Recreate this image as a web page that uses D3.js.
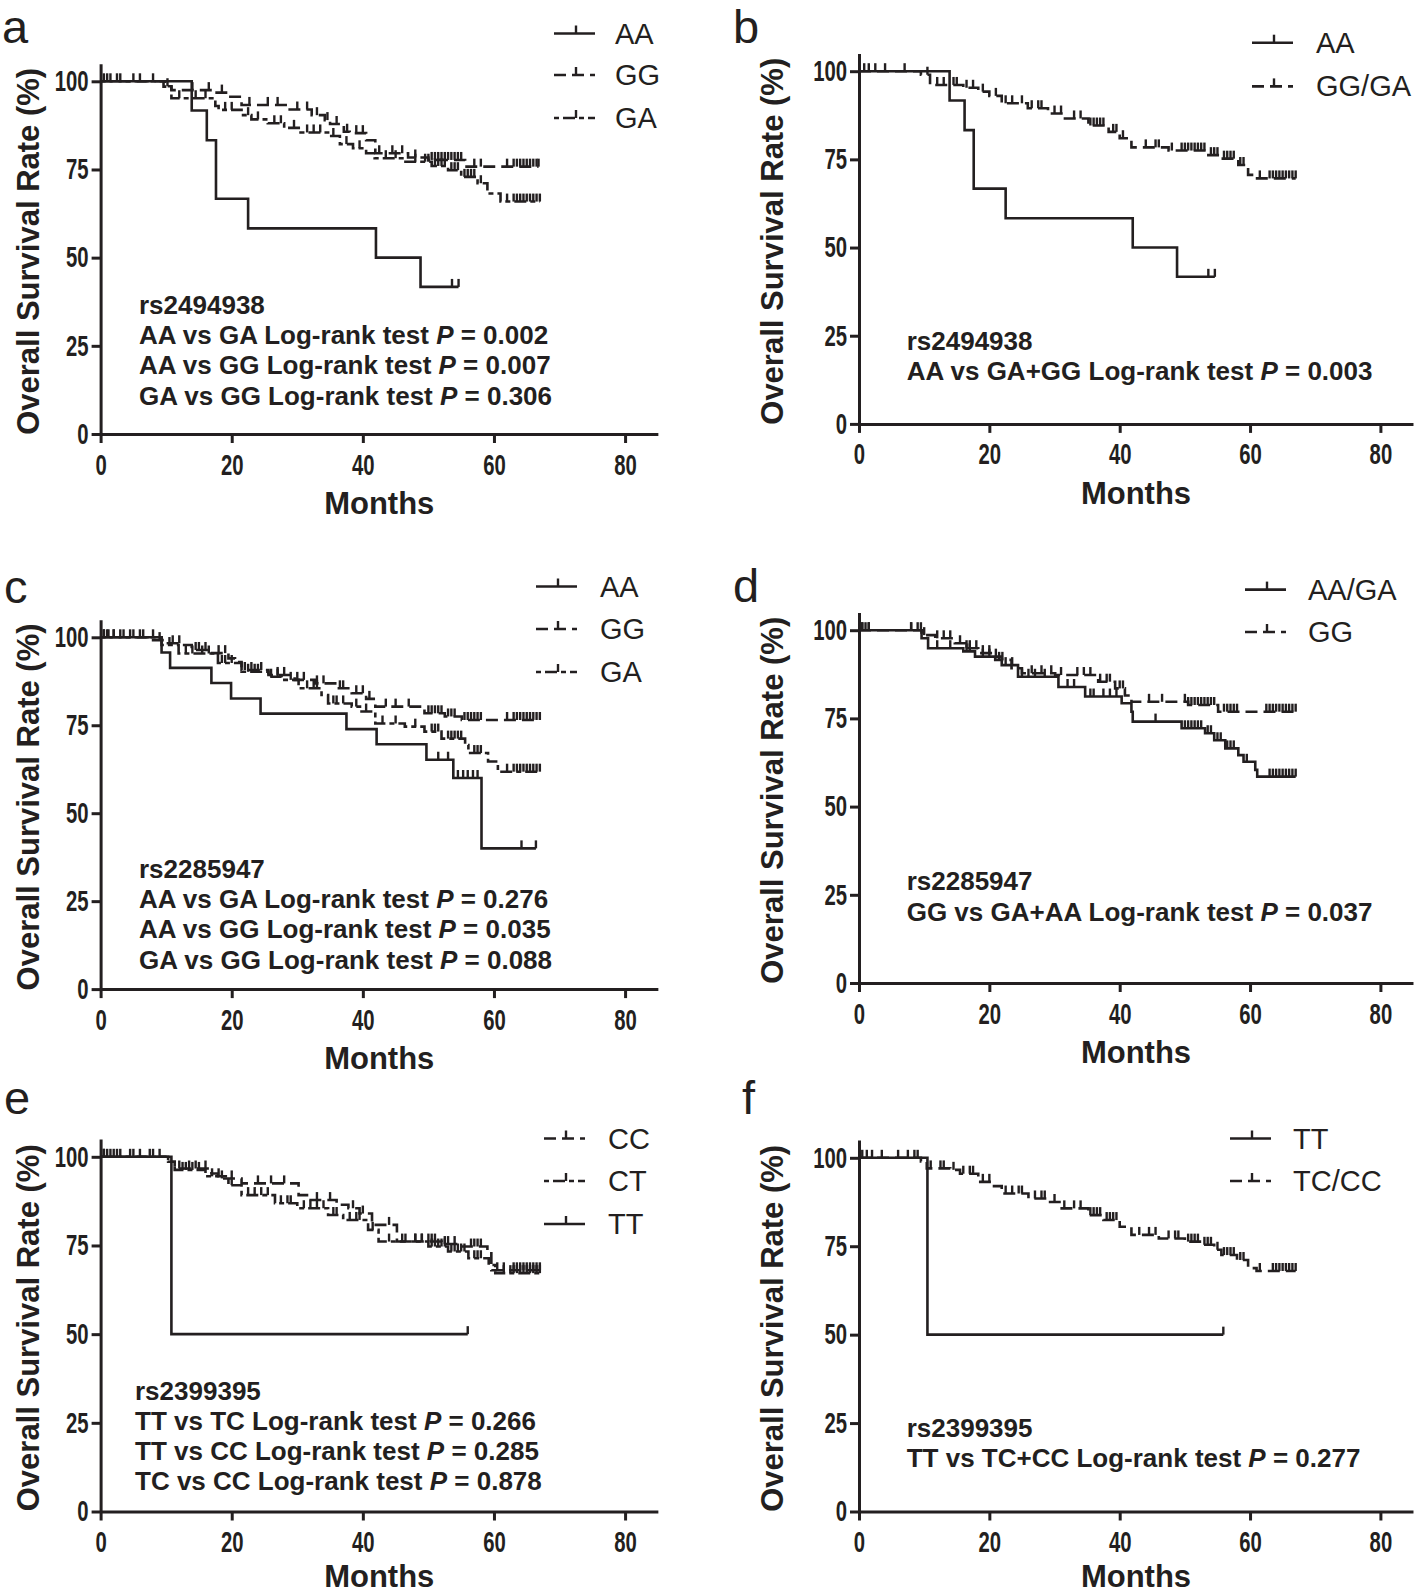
<!DOCTYPE html>
<html>
<head>
<meta charset="utf-8">
<script src="https://cdn.jsdelivr.net/npm/d3@7"></script>
<style>
  body { margin: 0; background: #fff; }
  text { font-family: "Liberation Sans", Arial, sans-serif; fill: #231f20; }
</style>
</head>
<body>
<svg id="fig" width="1418" height="1594"></svg>
<script>
/* ---- Data: Kaplan-Meier steps (event month, survival % after it) and censor months ---- */
var xTicks = [0, 20, 40, 60, 80];
var yTicks = [0, 25, 50, 75, 100];

// rs2494938 AA (panels a and b)
var aAA_t = [13.9, 16.2, 17.6, 22.5, 42.0, 48.8];
var aAA_s = [91.7, 83.3, 66.7, 58.3, 50.0, 41.7];
var aAA_c = [53.6, 54.6];
// panel a GG
var aGG_t = [9.8, 10.8, 17.4, 19.5, 21.5, 28.6, 32.2, 34.2, 35.0, 37.1, 38.0, 40.5, 41.9, 46.9, 50.0, 55.6];
var aGG_s = [98.6, 97.5, 96.8, 95.6, 93.3, 92.0, 90.4, 89.0, 87.9, 85.7, 85.3, 83.3, 79.6, 78.4, 77.7, 75.8];
var aGG_c = [1.0, 2.5, 6.0, 10.2, 14, 16.5, 18.5, 22.7, 25.5, 27.0, 30.0, 31.5, 33.0, 34.6, 36.0, 37.6, 39.0, 40.0, 42.5, 44.5, 46.0, 48.0, 50.5, 51.0, 51.5, 52.0, 52.5, 53.0, 53.5, 54.0, 54.5, 55.0, 57.0, 58.0, 62.0, 63.0, 63.5, 64.0, 64.5, 65.0, 65.5, 66.0, 66.5, 66.8];
// panel a GA
var aGA_t = [9.6, 10.8, 17.5, 18.0, 21.5, 23.0, 25.5, 28.0, 30.5, 34.7, 36.5, 38.5, 40.5, 41.8, 46.5, 50.5, 53.0, 55.0, 57.5, 59.0, 61.0];
var aGA_s = [98.5, 95.2, 93.0, 91.9, 90.4, 89.2, 88.1, 86.8, 85.5, 84.5, 82.2, 81.0, 79.6, 78.2, 77.2, 76.0, 74.8, 72.9, 71.1, 68.2, 65.9];
var aGA_c = [0.5, 1.5, 3.0, 5.0, 8.0, 12.0, 14.5, 16.0, 19.0, 20.0, 22.5, 24.0, 26.5, 27.5, 29.5, 31.5, 32.5, 33.5, 35.5, 37.5, 39.5, 43.5, 45.0, 48.0, 49.5, 50.0, 51.0, 51.5, 52.0, 52.5, 53.5, 54.0, 54.5, 55.5, 56.0, 56.5, 57.0, 58.0, 62.0, 63.0, 63.5, 64.0, 64.5, 65.0, 65.5, 66.0, 66.5, 67.0];
// panel b GG/GA
var bGGGA_t = [9.5, 10.9, 16.0, 18.3, 20.0, 21.9, 25.9, 29.0, 31.6, 35.2, 38.3, 40.0, 41.8, 47.5, 53.6, 55.6, 58.2, 59.7, 60.8];
var bGGGA_s = [99.0, 96.1, 95.3, 94.2, 93.0, 90.9, 89.5, 88.0, 86.6, 84.6, 82.8, 81.0, 78.4, 77.5, 76.2, 75.2, 73.4, 70.6, 69.6];
var bGGGA_c = [0.8, 1.5, 2.5, 4.0, 7.0, 10.5, 12.0, 13.0, 14.5, 15.0, 16.5, 17.5, 19.0, 21.0, 22.5, 23.5, 25.0, 26.5, 27.5, 28.0, 30.0, 31.0, 33.0, 34.0, 35.5, 36.0, 36.5, 37.0, 37.5, 39.0, 39.5, 40.5, 44.0, 45.5, 46.0, 48.0, 49.5, 50.0, 50.5, 51.0, 51.5, 52.0, 52.5, 53.0, 54.0, 54.5, 55.0, 56.0, 56.5, 57.0, 57.5, 58.5, 59.0, 61.5, 63.0, 63.5, 64.0, 64.5, 65.0, 65.5, 66.0, 66.5, 67.0];
// panel c (rs2285947)
var cAA_t = [9.3, 10.6, 16.9, 19.9, 24.4, 37.5, 42.1, 49.7, 53.8, 58.1];
var cAA_s = [95.7, 91.3, 87.0, 82.6, 78.3, 73.9, 69.6, 65.2, 60.0, 40.0];
var cAA_c = [51.5, 53.0, 54.5, 55.3, 56.0, 56.8, 57.5, 64.2, 66.4];
var cGG_t = [7.5, 9.8, 12.4, 13.9, 17.0, 19.5, 20.5, 21.5, 25.6, 29.6, 32.7, 36.0, 38.3, 40.5, 41.9, 49.4, 52.5, 55.1];
var cGG_s = [99.2, 98.3, 97.8, 96.4, 95.5, 94.0, 93.0, 90.7, 89.3, 87.9, 86.9, 85.5, 84.1, 82.5, 80.3, 78.4, 77.5, 76.5];
var cGG_c = [0.5, 1.0, 2.0, 3.0, 4.5, 6.0, 9.0, 11.0, 12.0, 14.5, 15.0, 16.0, 18.0, 19.0, 22.0, 23.0, 24.5, 27.0, 28.0, 30.0, 31.0, 33.0, 34.0, 36.5, 37.0, 39.0, 40.0, 41.0, 43.5, 45.0, 47.0, 50.0, 50.5, 51.0, 51.5, 52.0, 53.0, 53.5, 54.0, 55.5, 56.0, 56.5, 57.0, 57.5, 58.0, 62.0, 63.0, 63.5, 64.0, 64.5, 65.0, 65.5, 66.0, 66.5, 67.0];
var cGA_t = [9.3, 11.9, 17.9, 21.5, 25.6, 27.6, 30.2, 33.7, 34.7, 38.3, 39.8, 41.9, 46.4, 49.4, 52.0, 55.6, 56.1, 59.1, 60.6];
var cGA_s = [97.8, 95.4, 92.7, 90.2, 88.8, 87.9, 85.5, 83.6, 81.2, 80.3, 78.9, 75.5, 74.6, 73.2, 71.2, 69.4, 67.1, 64.7, 61.8];
var cGA_c = [0.5, 1.2, 2.0, 3.5, 5.0, 6.5, 8.0, 10.5, 13.0, 14.0, 15.5, 16.5, 18.5, 19.0, 20.0, 22.5, 23.5, 24.0, 26.0, 27.0, 29.0, 31.5, 32.5, 33.0, 35.5, 36.0, 37.0, 39.0, 40.5, 43.0, 45.0, 48.0, 50.5, 51.0, 51.5, 53.0, 53.5, 54.0, 54.5, 55.0, 57.0, 57.5, 58.0, 62.0, 63.0, 63.5, 64.0, 64.5, 65.0, 65.5, 66.0, 66.5, 67.0];
// panel d
var dAAGA_t = [9.6, 10.6, 16.0, 17.8, 21.9, 24.4, 30.6, 34.7, 40.3, 41.8, 42.0, 49.5, 53.1, 54.5, 56.2, 58.2, 59.0, 60.8, 61.1];
var dAAGA_s = [97.7, 94.9, 94.0, 92.5, 90.1, 86.8, 83.9, 81.2, 79.3, 76.9, 74.1, 72.2, 70.8, 68.8, 66.5, 64.6, 62.7, 60.4, 58.5];
var dAAGA_c = [0.5, 1.0, 1.5, 8.0, 9.5, 12.0, 14.0, 16.5, 17.0, 19.0, 20.0, 21.0, 22.5, 23.5, 25.0, 26.0, 27.0, 28.5, 32.0, 33.0, 35.5, 36.0, 37.5, 38.5, 39.5, 45.5, 50.0, 50.5, 51.0, 51.5, 52.0, 52.5, 53.5, 54.0, 55.0, 55.5, 56.5, 57.0, 57.5, 59.5, 63.0, 63.5, 64.0, 64.5, 65.0, 65.5, 66.0, 66.5, 67.0];
var dGG_t = [9.6, 11.7, 14.7, 16.3, 18.3, 20.9, 23.4, 25.0, 30.1, 36.7, 39.3, 40.8, 41.8, 50.5, 55.1];
var dGG_s = [98.6, 97.7, 96.3, 94.9, 93.5, 91.6, 89.2, 87.8, 87.3, 85.4, 83.5, 81.5, 79.7, 78.8, 76.9];
var dGG_c = [0.5, 1.5, 8.0, 9.0, 10.0, 12.0, 13.0, 14.0, 15.5, 16.5, 17.0, 18.0, 19.0, 20.0, 21.5, 22.0, 26.5, 28.0, 29.5, 31.0, 33.5, 34.5, 35.5, 37.0, 38.0, 38.5, 40.0, 40.5, 44.5, 46.5, 50.0, 50.5, 51.0, 51.5, 52.0, 52.5, 53.0, 53.5, 54.0, 54.5, 56.0, 56.5, 57.0, 57.5, 58.0, 62.5, 63.0, 63.5, 64.0, 64.5, 65.0, 65.5, 66.0, 66.5, 67.0];
// panel e (rs2399395)
var eCC_t = [10.3, 11.3, 16.9, 17.9, 21.5, 30.2, 31.7, 36.0, 37.8, 39.5, 41.4, 45.2, 52.0, 55.1, 59.0, 59.6];
var eCC_s = [98.6, 96.7, 95.3, 93.9, 92.5, 89.2, 87.8, 86.5, 85.5, 84.0, 80.8, 76.1, 75.4, 74.7, 73.7, 68.0];
var eCC_c = [0.5, 1.5, 2.5, 5.0, 8.0, 12.0, 13.5, 14.5, 16.0, 18.5, 20.0, 24.0, 26.0, 28.0, 33.0, 35.0, 38.5, 40.0, 44.0, 46.5, 48.0, 49.0, 50.0, 50.5, 51.0, 52.5, 53.0, 54.0, 56.5, 57.0, 57.5, 58.0, 60.5, 61.5, 63.0, 63.5, 64.0, 64.5, 65.0, 65.5, 66.0, 66.5, 67.0];
var eCT_t = [10.3, 11.3, 16.0, 19.5, 21.5, 26.6, 30.0, 34.7, 37.0, 40.8, 42.4, 50.0, 53.0, 56.1, 59.2, 60.2];
var eCT_s = [98.6, 96.3, 94.5, 92.0, 89.2, 86.9, 85.5, 83.6, 82.2, 79.4, 76.1, 74.7, 73.3, 71.4, 69.5, 67.2];
var eCT_c = [0.5, 1.0, 2.0, 3.0, 4.5, 6.0, 7.5, 9.0, 12.5, 13.0, 14.0, 15.0, 17.0, 18.0, 20.0, 22.5, 23.5, 24.5, 25.5, 27.5, 28.5, 29.0, 31.0, 32.0, 33.0, 34.0, 35.5, 36.0, 38.0, 39.0, 39.5, 41.5, 44.0, 46.0, 48.0, 49.0, 50.5, 51.0, 51.5, 52.0, 52.5, 53.5, 54.0, 54.5, 55.0, 55.5, 57.0, 57.5, 58.0, 61.5, 62.5, 63.0, 63.5, 64.0, 64.5, 65.0, 65.5, 66.0, 66.5, 67.0];
var eTT_t = [10.8];
var eTT_s = [50.0];
var eTT_c = [56.0];
// panel f
var fTT_t = [10.5];
var fTT_s = [50.0];
var fTT_c = [55.9];
var fTCCC_t = [9.5, 10.4, 14.0, 15.5, 18.3, 20.5, 21.9, 26.0, 29.0, 31.1, 35.2, 37.5, 40.0, 41.8, 46.0, 50.0, 52.6, 54.5, 55.6, 58.0, 59.7, 61.0];
var fTCCC_s = [99.0, 97.0, 96.6, 95.5, 93.2, 92.0, 89.9, 88.5, 87.5, 85.7, 83.8, 82.4, 80.5, 78.2, 77.2, 76.3, 75.4, 74.0, 72.5, 71.1, 68.8, 68.0];
var fTCCC_c = [0.5, 1.2, 2.0, 3.5, 6.0, 7.5, 8.5, 9.0, 11.0, 12.5, 13.0, 14.5, 16.0, 17.0, 17.5, 19.0, 20.0, 22.5, 23.5, 24.5, 25.0, 27.0, 28.0, 28.5, 30.0, 31.5, 33.0, 34.0, 35.5, 36.0, 36.5, 37.0, 38.0, 38.5, 39.0, 39.5, 43.0, 44.5, 45.5, 47.5, 48.5, 49.0, 50.5, 51.0, 51.5, 52.0, 53.0, 53.5, 54.0, 55.0, 56.0, 56.5, 57.0, 57.5, 58.5, 59.0, 61.5, 63.5, 64.0, 64.5, 65.0, 65.5, 66.0, 66.5, 67.0];

/* ---- styles ---- */
var ink = "#231f20";
var dashes = { solid: null, dash: "12,6", dotdash: "5,4,12,4" };
var squeeze = 0.7;   // tick labels in the figure are condensed

/* ---- panel layout ---- */
var panels = [
  { lab: "a", labX: 2, labY: 43, x0: 100.6, unit: 6.556, y0: 434, y100: 81.3, titleX: 28.5,
    legX: 554, legTextX: 615, legY: [33.5, 75, 118], noteX: 139, noteY: 314,
    series: [
      { name: "AA", t: aAA_t, s: aAA_s, c: aAA_c, style: "solid" },
      { name: "GG", t: aGG_t, s: aGG_s, c: aGG_c, style: "dash" },
      { name: "GA", t: aGA_t, s: aGA_s, c: aGA_c, style: "dotdash" }],
    notes: [["rs2494938"], ["AA vs GA Log-rank test ", "P", " = 0.002"],
            ["AA vs GG Log-rank test ", "P", " = 0.007"], ["GA vs GG Log-rank test ", "P", " = 0.306"]] },
  { lab: "b", labX: 733, labY: 43, x0: 859, unit: 6.5175, y0: 423.9, y100: 71.2, titleX: 772.5,
    legX: 1252, legTextX: 1316, legY: [42.7, 86.4], noteX: 906.7, noteY: 349.5,
    series: [
      { name: "AA", t: aAA_t, s: aAA_s, c: aAA_c, style: "solid" },
      { name: "GG/GA", t: bGGGA_t, s: bGGGA_s, c: bGGGA_c, style: "dash" }],
    notes: [["rs2494938"], ["AA vs GA+GG Log-rank test ", "P", " = 0.003"]] },
  { lab: "c", labX: 4, labY: 603, x0: 100.6, unit: 6.556, y0: 989.1, y100: 637.3, titleX: 28.5,
    legX: 536, legTextX: 600, legY: [586.5, 629, 672], noteX: 139, noteY: 878,
    series: [
      { name: "AA", t: cAA_t, s: cAA_s, c: cAA_c, style: "solid" },
      { name: "GG", t: cGG_t, s: cGG_s, c: cGG_c, style: "dash" },
      { name: "GA", t: cGA_t, s: cGA_s, c: cGA_c, style: "dotdash" }],
    notes: [["rs2285947"], ["AA vs GA Log-rank test ", "P", " = 0.276"],
            ["AA vs GG Log-rank test ", "P", " = 0.035"], ["GA vs GG Log-rank test ", "P", " = 0.088"]] },
  { lab: "d", labX: 733, labY: 602, x0: 859, unit: 6.5175, y0: 983, y100: 630.2, titleX: 772.5,
    legX: 1245, legTextX: 1308, legY: [589.6, 632], noteX: 906.7, noteY: 890.3,
    series: [
      { name: "AA/GA", t: dAAGA_t, s: dAAGA_s, c: dAAGA_c, style: "solid" },
      { name: "GG", t: dGG_t, s: dGG_s, c: dGG_c, style: "dash" }],
    notes: [["rs2285947"], ["GG vs GA+AA Log-rank test ", "P", " = 0.037"]] },
  { lab: "e", labX: 4, labY: 1114, x0: 100.6, unit: 6.556, y0: 1511.5, y100: 1156.8, titleX: 28.5,
    legX: 544, legTextX: 608, legY: [1138.5, 1181, 1224], noteX: 135, noteY: 1399.6,
    series: [
      { name: "CC", t: eCC_t, s: eCC_s, c: eCC_c, style: "dash" },
      { name: "CT", t: eCT_t, s: eCT_s, c: eCT_c, style: "dotdash" },
      { name: "TT", t: eTT_t, s: eTT_s, c: eTT_c, style: "solid" }],
    notes: [["rs2399395"], ["TT vs TC Log-rank test ", "P", " = 0.266"],
            ["TT vs CC Log-rank test ", "P", " = 0.285"], ["TC vs CC Log-rank test ", "P", " = 0.878"]] },
  { lab: "f", labX: 742, labY: 1114, x0: 859, unit: 6.5175, y0: 1511.5, y100: 1157.8, titleX: 772.5,
    legX: 1230, legTextX: 1293, legY: [1138.5, 1181], noteX: 906.7, noteY: 1437,
    series: [
      { name: "TT", t: fTT_t, s: fTT_s, c: fTT_c, style: "solid" },
      { name: "TC/CC", t: fTCCC_t, s: fTCCC_s, c: fTCCC_c, style: "dash" }],
    notes: [["rs2399395"], ["TT vs TC+CC Log-rank test ", "P", " = 0.277"]] }
];

var svg = d3.select("#fig");

function survAt(ser, m) {
  var i = d3.bisectRight(ser.t, m);
  return i === 0 ? 100 : ser.s[i - 1];
}

panels.forEach(function(p) {
  var g = svg.append("g");
  var x = d3.scaleLinear().domain([0, 85]).range([p.x0, p.x0 + 85 * p.unit]);
  var y = d3.scaleLinear().domain([0, 100]).range([p.y0, p.y100]);
  var yTop = y(105);

  // panel letter
  g.append("text").attr("x", p.labX).attr("y", p.labY)
   .style("font-size", "47px").text(p.lab);

  // axes
  var xAxis = d3.axisBottom(x).tickValues(xTicks).tickSize(9).tickSizeOuter(0).tickPadding(11);
  var yAxis = d3.axisLeft(d3.scaleLinear().domain([0, 105]).range([p.y0, yTop]))
                .tickValues(yTicks).tickSize(9).tickSizeOuter(0).tickPadding(3);
  var gx = g.append("g").attr("transform", "translate(0," + p.y0 + ")").call(xAxis);
  var gy = g.append("g").attr("transform", "translate(" + p.x0 + ",0)").call(yAxis);
  [gx, gy].forEach(function(a) {
    a.select(".domain").attr("stroke", ink).attr("stroke-width", 3);
    a.selectAll(".tick line").attr("stroke", ink).attr("stroke-width", 3);
    a.selectAll(".tick text").attr("fill", ink)
     .style("font-size", "29px").style("font-weight", "bold")
     .style("font-family", "'Liberation Sans', Arial, sans-serif");
  });
  gy.selectAll(".tick text").attr("x", -12 / squeeze).attr("transform", "scale(" + squeeze + ",1)");
  gx.selectAll(".tick text").attr("transform", "scale(" + squeeze + ",1)");

  // axis titles
  g.append("text").attr("x", (x(0) + x(85)) / 2).attr("y", Math.min(p.y0 + 80, 1587))
   .attr("text-anchor", "middle").style("font-size", "31px").style("font-weight", "bold")
   .text("Months");
  g.append("text")
   .attr("transform", "translate(" + p.titleX + "," + ((p.y0 + yTop) / 2 + 2.5) + ") rotate(-90)")
   .attr("text-anchor", "middle").attr("dominant-baseline", "central")
   .style("font-size", "31px").style("font-weight", "bold")
   .text("Overall Survival Rate (%)");

  // curves
  var line = d3.line().x(function(d) { return x(d[0]); }).y(function(d) { return y(d[1]); })
               .curve(d3.curveStepAfter);
  p.series.forEach(function(ser) {
    var end = Math.max(d3.max(ser.c), d3.max(ser.t));
    var pts = [[0, 100]];
    ser.t.forEach(function(t, i) { pts.push([t, ser.s[i]]); });
    pts.push([end, ser.s[ser.s.length - 1]]);
    g.append("path").datum(pts).attr("d", line)
     .attr("fill", "none").attr("stroke", ink).attr("stroke-width", 2.6)
     .attr("stroke-dasharray", dashes[ser.style]);
    g.selectAll(null).data(ser.c).enter().append("line")
     .attr("x1", function(d) { return x(d); }).attr("x2", function(d) { return x(d); })
     .attr("y1", function(d) { return y(survAt(ser, d)); })
     .attr("y2", function(d) { return y(survAt(ser, d)) - 8; })
     .attr("stroke", ink).attr("stroke-width", 2.4);
  });

  // legend
  p.series.forEach(function(ser, i) {
    var ly = p.legY[i];
    g.append("line").attr("x1", p.legX).attr("x2", p.legX + 41).attr("y1", ly).attr("y2", ly)
     .attr("stroke", ink).attr("stroke-width", 2.6).attr("stroke-dasharray", dashes[ser.style]);
    g.append("line").attr("x1", p.legX + 22).attr("x2", p.legX + 22).attr("y1", ly).attr("y2", ly - 8)
     .attr("stroke", ink).attr("stroke-width", 2.4);
    g.append("text").attr("x", p.legTextX).attr("y", ly + 10)
     .style("font-size", "29px").text(ser.name);
  });

  // annotation
  p.notes.forEach(function(parts, i) {
    var t = g.append("text").attr("x", p.noteX).attr("y", p.noteY + i * 30.2)
             .style("font-size", "26px").style("font-weight", "bold");
    parts.forEach(function(part, k) {
      t.append("tspan").style("font-style", k === 1 ? "italic" : "normal").text(part);
    });
  });
});
</script>
</body>
</html>
